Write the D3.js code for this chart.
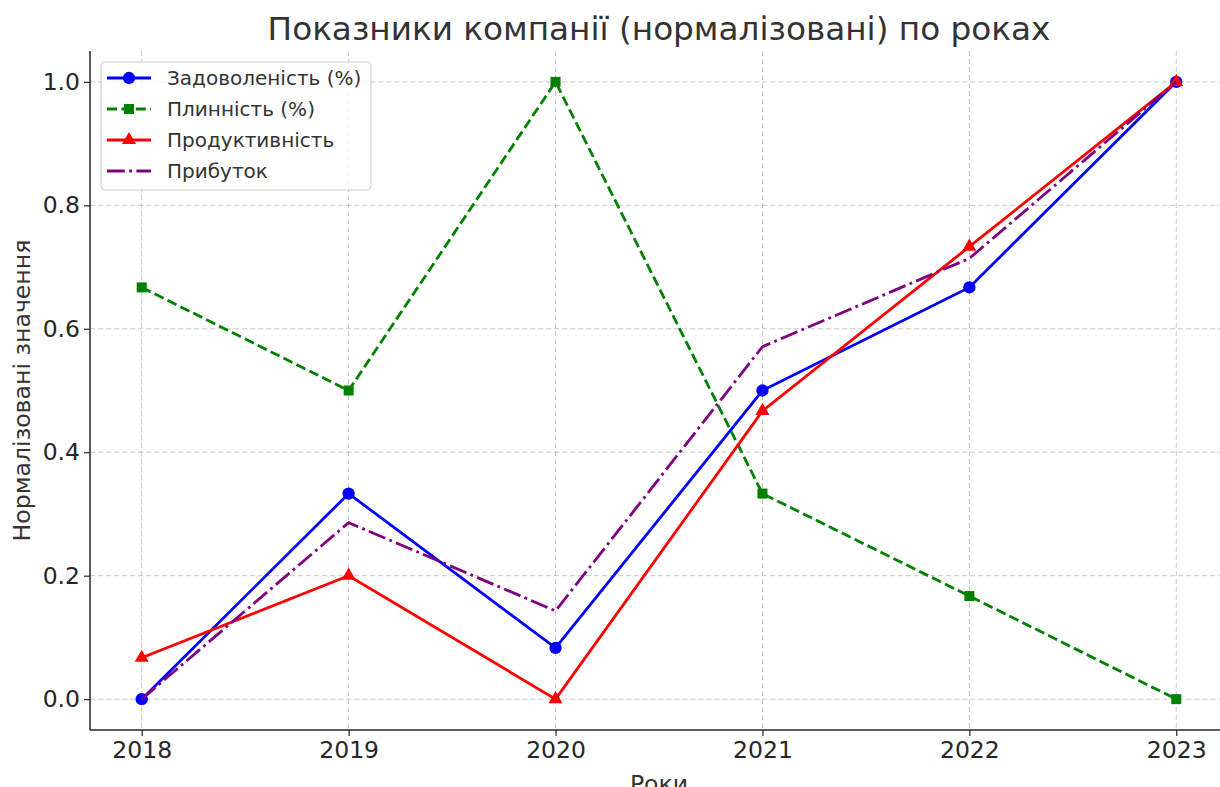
<!DOCTYPE html>
<html>
<head>
<meta charset="utf-8">
<script src="https://cdn.jsdelivr.net/npm/d3@7"></script>
<style>
body { margin: 0; background: #fff; }
svg { display: block; font-family: "DejaVu Sans", sans-serif; }
</style>
</head>
<body>
<svg id="chart" width="1220" height="787"></svg>
<script>
var years = [2018, 2019, 2020, 2021, 2022, 2023];
var satisfaction = [0, 0.333, 0.083, 0.5, 0.667, 1.0];
var turnover = [0.667, 0.5, 1.0, 0.333, 0.167, 0];
var productivity = [0.067, 0.2, 0, 0.467, 0.733, 1.0];
var profit = [0, 0.286, 0.143, 0.571, 0.714, 1.0];
var yTicks = [0.0, 0.2, 0.4, 0.6, 0.8, 1.0];
var seriesNames = ['Задоволеність (%)', 'Плинність (%)', 'Продуктивність', 'Прибуток'];

var series = [
    {name: seriesNames[0], vals: satisfaction, color: '#0000ff', dash: null, marker: 'circle'},
    {name: seriesNames[1], vals: turnover, color: '#008000', dash: '10,4.4', marker: 'square'},
    {name: seriesNames[2], vals: productivity, color: '#ff0000', dash: null, marker: 'triangle'},
    {name: seriesNames[3], vals: profit, color: '#800080', dash: '17.8,4.4,2.8,4.4', marker: null}
];

var mLeft = 90, mRight = 1228, mTop = 51, mBottom = 730;
var svg = d3.select('#chart');

var xs = d3.scaleLinear().domain([2017.75, 2023.25]).range([mLeft, mRight]);
var ys = d3.scaleLinear().domain([-0.05, 1.05]).range([mBottom, mTop]);

// grid
var grid = svg.append('g');
grid.selectAll('.gx').data(years).enter().append('line')
    .attr('x1', function(d) { return xs(d); }).attr('x2', function(d) { return xs(d); })
    .attr('y1', mTop).attr('y2', mBottom)
    .attr('stroke', '#b0b0b0').attr('stroke-opacity', 0.7).attr('stroke-width', 1)
    .attr('stroke-dasharray', '5,3');
grid.selectAll('.gy').data(yTicks).enter().append('line')
    .attr('y1', function(d) { return ys(d); }).attr('y2', function(d) { return ys(d); })
    .attr('x1', mLeft).attr('x2', mRight)
    .attr('stroke', '#b0b0b0').attr('stroke-opacity', 0.7).attr('stroke-width', 1)
    .attr('stroke-dasharray', '5,3');

// lines
var line = d3.line()
    .x(function(d, i) { return xs(years[i]); })
    .y(function(d) { return ys(d); });

var sym = {
    circle: d3.symbol().type(d3.symbolCircle).size(120),
    square: d3.symbol().type(d3.symbolSquare).size(100),
    triangle: d3.symbol().type(d3.symbolTriangle).size(85)
};

series.forEach(function(s) {
    var g = svg.append('g');
    g.append('path')
        .datum(s.vals)
        .attr('d', line)
        .attr('fill', 'none')
        .attr('stroke', s.color)
        .attr('stroke-width', 2.8)
        .attr('stroke-dasharray', s.dash);
    if (s.marker) {
        g.selectAll('path.m').data(s.vals).enter().append('path')
            .attr('class', 'm')
            .attr('d', sym[s.marker])
            .attr('transform', function(d, i) { return 'translate(' + xs(years[i]) + ',' + ys(d) + ')'; })
            .attr('fill', s.color);
    }
});

// axes
var xAxis = d3.axisBottom(xs).tickValues(years).tickFormat(d3.format('d')).tickSize(6).tickPadding(5);
var yAxis = d3.axisLeft(ys).tickValues(yTicks).tickFormat(d3.format('.1f')).tickSize(6).tickPadding(4);

var gx = svg.append('g').attr('transform', 'translate(0,' + mBottom + ')').call(xAxis);
var gy = svg.append('g').attr('transform', 'translate(' + mLeft + ',0)').call(yAxis);
[gx, gy].forEach(function(g) {
    g.select('.domain').remove();
    g.selectAll('line').attr('stroke', '#262626').attr('stroke-width', 1.2);
    g.selectAll('text').attr('font-size', 23.5).attr('fill', '#262626')
        .attr('font-family', '"DejaVu Sans", sans-serif');
});
gx.selectAll('text').attr('dy', '0.71em');

svg.append('line').attr('x1', mLeft).attr('x2', mLeft).attr('y1', mTop).attr('y2', mBottom)
    .attr('stroke', '#262626').attr('stroke-width', 1.5);
svg.append('line').attr('x1', mLeft).attr('x2', mRight).attr('y1', mBottom).attr('y2', mBottom)
    .attr('stroke', '#262626').attr('stroke-width', 1.5);

// labels
svg.append('text')
    .attr('x', (mLeft + mRight) / 2).attr('y', 40)
    .attr('text-anchor', 'middle').attr('font-size', 32.7).attr('fill', '#333')
    .text('Показники компанії (нормалізовані) по роках');
svg.append('text')
    .attr('x', (mLeft + mRight) / 2).attr('y', 792)
    .attr('text-anchor', 'middle').attr('font-size', 23.6).attr('fill', '#333')
    .text('Роки');
svg.append('text')
    .attr('transform', 'translate(30,' + (mTop + mBottom) / 2 + ') rotate(-90)')
    .attr('text-anchor', 'middle').attr('font-size', 23.6).attr('fill', '#333')
    .text('Нормалізовані значення');

// legend
var lg = svg.append('g').attr('transform', 'translate(101,62)');
lg.append('rect').attr('width', 270).attr('height', 128).attr('rx', 4)
    .attr('fill', '#fff').attr('fill-opacity', 0.8)
    .attr('stroke', '#d0d0d0').attr('stroke-width', 1.2);
series.forEach(function(s, i) {
    var y = 16 + i * 31;
    lg.append('line').attr('x1', 6).attr('x2', 50).attr('y1', y).attr('y2', y)
        .attr('stroke', s.color).attr('stroke-width', 2.8)
        .attr('stroke-dasharray', s.dash);
    if (s.marker) {
        lg.append('path').attr('d', sym[s.marker])
            .attr('transform', 'translate(28,' + y + ')').attr('fill', s.color);
    }
    lg.append('text').attr('x', 66).attr('y', y).attr('dy', '0.35em')
        .attr('font-size', 20).attr('fill', '#333').text(s.name);
});
</script>
</body>
</html>
